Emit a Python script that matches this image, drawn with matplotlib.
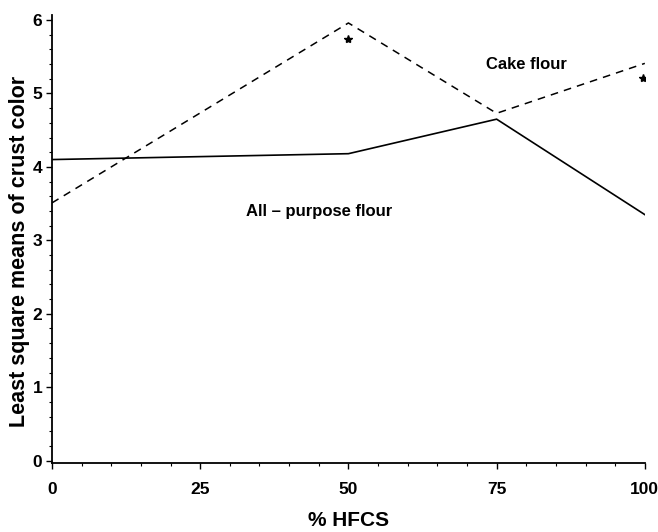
import numpy as np
import matplotlib
matplotlib.use("Agg")
import matplotlib.pyplot as plt
from matplotlib.ticker import MultipleLocator

# Dane
hfcs = [0, 50, 75, 100]
all_purpose = [4.10, 4.18, 4.65, 3.35]
cake = [3.51, 5.96, 4.73, 5.41]
star_x = [50, 99.7]
star_y = [5.74, 5.21]
x_ticks = [0, 25, 50, 75, 100]
y_ticks = [0, 1, 2, 3, 4, 5, 6]

plt.rcParams['font.family'] = ['Liberation Sans', 'DejaVu Sans']

fig = plt.figure(figsize=(6.58, 5.32), dpi=100)
ax = fig.add_axes([0.079, 0.130, 0.901, 0.842])

ax.plot(hfcs, all_purpose, color='black', lw=1.2, solid_joinstyle='miter')
ax.plot(hfcs, cake, color='black', lw=1.1, linestyle=(0, (5, 4)))
ax.plot(star_x, star_y, linestyle='none', marker='*', color='black', ms=6)

ax.text(80, 5.39, 'Cake flour', ha='center', va='center', fontsize=12, fontweight='bold')
ax.text(45, 3.39, 'All – purpose flour', ha='center', va='center', fontsize=12, fontweight='bold')

ax.set_xlim(0, 100)
ax.set_ylim(-0.03, 6.07)
ax.set_xticks(x_ticks)
ax.set_yticks(y_ticks)
ax.xaxis.set_minor_locator(MultipleLocator(5))
ax.yaxis.set_minor_locator(MultipleLocator(0.2))
ax.tick_params(which='major', length=4, width=1, labelsize=12.5, pad=10)
ax.tick_params(axis='y', which='major', pad=3)
ax.tick_params(which='minor', length=2, width=0.8)
for lbl in ax.get_xticklabels() + ax.get_yticklabels():
    lbl.set_fontweight('bold')

ax.spines['top'].set_visible(False)
ax.spines['right'].set_visible(False)
ax.spines['left'].set_linewidth(1.3)
ax.spines['bottom'].set_linewidth(1.3)

ax.set_xlabel('% HFCS', fontsize=15, fontweight='bold', labelpad=10)
ax.set_ylabel('Least square means of crust color', fontsize=15.5, fontweight='bold', va='center')
ax.yaxis.set_label_coords(-0.054, 0.471)

fig.savefig('out.png', dpi=100)
